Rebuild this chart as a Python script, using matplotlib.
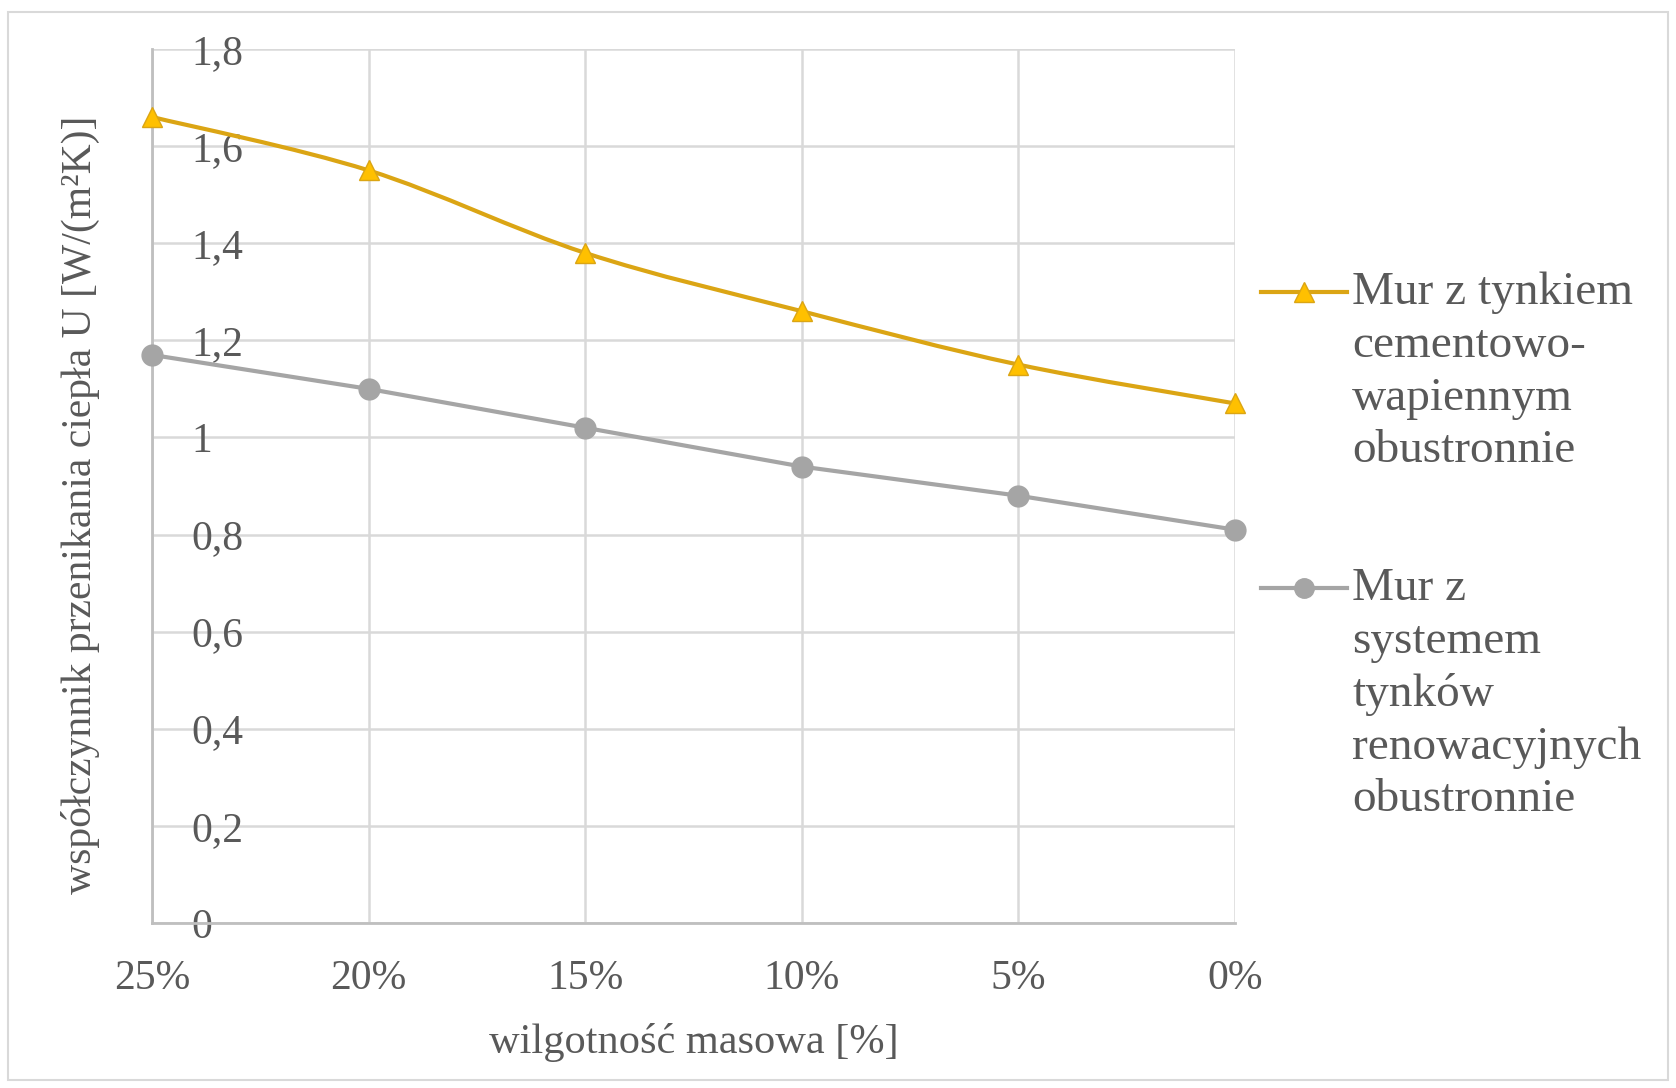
import numpy as np
import matplotlib
matplotlib.use('Agg')
import matplotlib.pyplot as plt
from matplotlib.path import Path
from matplotlib.patches import PathPatch, Rectangle
from matplotlib.lines import Line2D

# Data
categories = ['25%', '20%', '15%', '10%', '5%', '0%']
u_cement = [1.66, 1.55, 1.38, 1.26, 1.15, 1.07]
u_renov = [1.17, 1.10, 1.02, 0.94, 0.88, 0.81]
y_ticks = [0, 0.2, 0.4, 0.6, 0.8, 1.0, 1.2, 1.4, 1.6, 1.8]
y_tick_labels = ['0', '0,2', '0,4', '0,6', '0,8', '1', '1,2', '1,4', '1,6', '1,8']
legend_cement = 'Mur z tynkiem\ncementowo-\nwapiennym\nobustronnie'
legend_renov = 'Mur z\nsystemem\ntynków\nrenowacyjnych\nobustronnie'

plt.rcParams['font.family'] = ['Liberation Serif', 'DejaVu Serif']
txt = '#595959'
gold_line = '#DBA514'
gold_fill = '#FFC000'
grey = '#A5A5A5'

W, H = 1676, 1088
fig = plt.figure(figsize=(W / 100, H / 100), dpi=100)
fig.add_artist(Rectangle((8 / W, 8 / H), 1 - 16 / W, 1 - 20 / H, transform=fig.transFigure,
                         fill=False, edgecolor='#d9d9d9', linewidth=1.5))

ax = fig.add_axes([152 / W, 1 - 923 / H, (1235 - 152) / W, (923 - 49) / H])
x = np.arange(len(categories))


def smooth_path(xs, ys):
    # Excel-like smoothed line: cubic Bezier segments through the points
    pts = np.column_stack([xs, ys]).astype(float)
    ext = np.vstack([pts[0], pts, pts[-1]])
    verts = [pts[0]]
    codes = [Path.MOVETO]
    for i in range(len(pts) - 1):
        p0, p1, p2, p3 = ext[i], ext[i + 1], ext[i + 2], ext[i + 3]
        verts += [p1 + (p2 - p0) / 6, p2 - (p3 - p1) / 6, p2]
        codes += [Path.CURVE4] * 3
    return Path(verts, codes)


ax.add_patch(PathPatch(smooth_path(x, u_cement), fill=False, edgecolor=gold_line,
                       linewidth=3, zorder=3, clip_on=False))
ax.plot(x, u_cement, linestyle='none', marker='^', markersize=14,
        markerfacecolor=gold_fill, markeredgecolor=gold_line, zorder=4, clip_on=False)
ax.plot(x, u_renov, color=grey, linewidth=3, marker='o', markersize=15,
        markerfacecolor=grey, markeredgecolor=grey, zorder=4, clip_on=False)

ax.set_xlim(0, 5)
ax.set_ylim(0, 1.8)
ax.set_xticks(x)
ax.set_xticklabels(categories)
ax.set_yticks(y_ticks)
ax.set_yticklabels(y_tick_labels)
ax.grid(True, color='#d9d9d9', linewidth=1.8)
ax.set_axisbelow(True)
for s in ['top', 'right']:
    ax.spines[s].set_visible(False)
for s in ['left', 'bottom']:
    ax.spines[s].set_color('#bfbfbf')
    ax.spines[s].set_linewidth(2)

ax.tick_params(axis='x', length=0, pad=26, labelsize=30, labelcolor=txt)
ax.tick_params(axis='y', length=0, pad=-28, labelsize=30, labelcolor=txt)
for lab in ax.get_yticklabels():
    lab.set_horizontalalignment('left')

ax.set_xlabel('wilgotność masowa [%]', fontsize=30.5, color=txt, labelpad=18)
fig.text(80 / W, 1 - 505 / H, 'współczynnik przenikania ciepła U [W/(m²K)]',
         rotation=90, ha='center', va='center', fontsize=30, color=txt)

# Legend drawn by hand so the key sits on the first text line
for yc, lab, color, mk, mfc in [(292, legend_cement, gold_line, '^', gold_fill),
                                (588, legend_renov, grey, 'o', grey)]:
    fig.add_artist(Line2D([1261 / W, 1347 / W], [1 - yc / H] * 2, transform=fig.transFigure,
                          color=color, linewidth=3))
    fig.add_artist(Line2D([1304 / W], [1 - yc / H], transform=fig.transFigure,
                          marker=mk, markersize=14, markerfacecolor=mfc, markeredgecolor=color))
    fig.text(1352 / W, 1 - (yc - 20) / H, lab, ha='left', va='top', fontsize=34,
             color=txt, linespacing=1.31)

fig.savefig('out.png', dpi=100)
